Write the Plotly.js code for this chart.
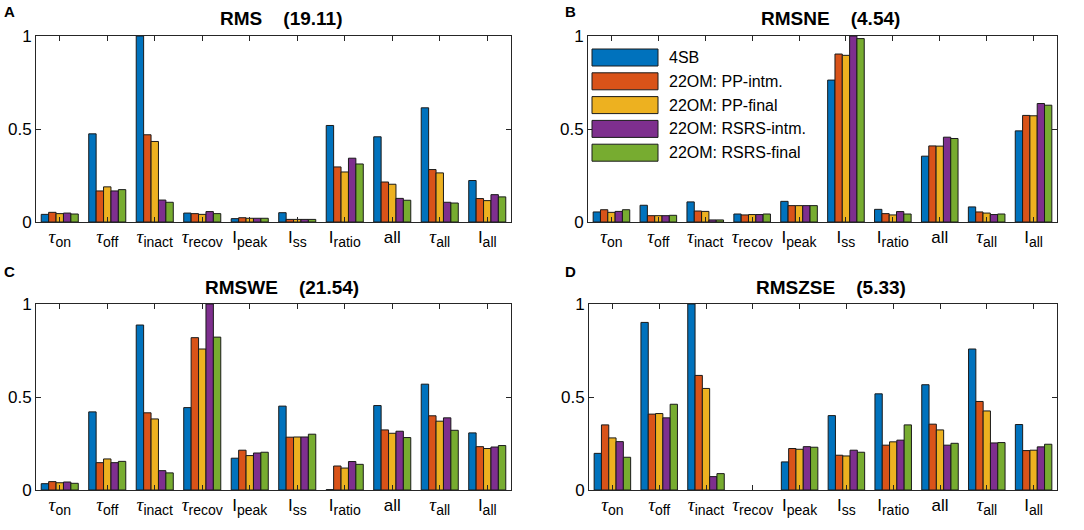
<!DOCTYPE html>
<html>
<head>
<meta charset="utf-8">
<script src="https://cdn.plot.ly/plotly-3.0.1.min.js"></script>
<style>html,body{margin:0;padding:0;background:#fff;}#chart{width:1084px;height:530px;}</style>
</head>
<body>
<div id="chart"></div>
<script>
// ---- data ----
const categories = ['tau_on','tau_off','tau_inact','tau_recov','I_peak','I_ss','I_ratio','all','tau_all','I_all'];
const TAU = '<span style="font-family:Liberation Serif;font-size:19px"><i>τ</i></span>';
const SUB = s => '<sub><span style="font-size:14px">' + s + '</span></sub>';
const tickLabels = [
  TAU + SUB('on'), TAU + SUB('off'), TAU + SUB('inact'), TAU + SUB('recov'),
  'I' + SUB('peak'), 'I' + SUB('ss'), 'I' + SUB('ratio'), 'all',
  TAU + SUB('all'), 'I' + SUB('all')
];
const seriesNames = ['4SB','22OM: PP-intm.','22OM: PP-final','22OM: RSRS-intm.','22OM: RSRS-final'];
const seriesColors = ['#0072BD','#D95319','#EDB120','#7E2F8E','#77AC30'];
const panelLetters = ['A','B','C','D'];
const panelTitles = ['RMS','RMSNE','RMSWE','RMSZSE'];
const panelScores = ['19.11','4.54','21.54','5.33'];
const yTickVals = [0, 0.5, 1];
const yTickText = ['0','0.5','1'];

// each row: one series (4SB, PP-intm., PP-final, RSRS-intm., RSRS-final) across categories
const RMS = [
  [0.041, 0.474, 1.000, 0.048, 0.018, 0.050, 0.519, 0.458, 0.614, 0.223],
  [0.052, 0.167, 0.469, 0.045, 0.023, 0.014, 0.296, 0.215, 0.282, 0.126],
  [0.045, 0.189, 0.433, 0.041, 0.020, 0.014, 0.269, 0.203, 0.264, 0.115],
  [0.048, 0.167, 0.118, 0.056, 0.020, 0.014, 0.343, 0.127, 0.106, 0.147],
  [0.043, 0.174, 0.106, 0.045, 0.020, 0.014, 0.312, 0.117, 0.102, 0.135]
];
const RMSNE = [
  [0.054, 0.090, 0.108, 0.043, 0.111, 0.763, 0.068, 0.354, 0.081, 0.490],
  [0.066, 0.034, 0.059, 0.038, 0.088, 0.903, 0.045, 0.409, 0.054, 0.573],
  [0.052, 0.034, 0.057, 0.040, 0.088, 0.896, 0.038, 0.408, 0.048, 0.571],
  [0.057, 0.034, 0.011, 0.040, 0.088, 1.000, 0.056, 0.456, 0.040, 0.637],
  [0.066, 0.036, 0.011, 0.043, 0.088, 0.986, 0.043, 0.449, 0.043, 0.628]
];
const RMSWE = [
  [0.034, 0.420, 0.887, 0.443, 0.171, 0.451, 0.002, 0.454, 0.569, 0.307],
  [0.045, 0.147, 0.415, 0.819, 0.214, 0.284, 0.129, 0.323, 0.399, 0.233],
  [0.039, 0.167, 0.382, 0.758, 0.185, 0.285, 0.118, 0.305, 0.370, 0.223],
  [0.043, 0.147, 0.104, 1.000, 0.199, 0.285, 0.153, 0.316, 0.388, 0.231],
  [0.036, 0.154, 0.092, 0.822, 0.203, 0.300, 0.138, 0.282, 0.321, 0.239]
];
const RMSZSE = [
  [0.197, 0.901, 1.000, null, 0.151, 0.400, 0.517, 0.566, 0.758, 0.352],
  [0.350, 0.408, 0.616, null, 0.223, 0.187, 0.241, 0.354, 0.476, 0.212],
  [0.280, 0.411, 0.546, null, 0.219, 0.183, 0.259, 0.323, 0.425, 0.214],
  [0.260, 0.388, 0.072, null, 0.233, 0.214, 0.268, 0.241, 0.253, 0.232],
  [0.176, 0.461, 0.088, null, 0.230, 0.203, 0.350, 0.251, 0.255, 0.246]
];
const panelData = [RMS, RMSNE, RMSWE, RMSZSE];

// ---- layout helpers ----
const W = 1084, H = 530;
const px = x => x / W;
const py = y => 1 - y / H;
const FONT = 'Arial, "Liberation Sans", sans-serif';
const AX = '#262626';

// plot boxes in pixels [left, right, top, bottom]
const boxes = [
  [36, 511, 36, 222],
  [588, 1057, 36, 222],
  [36, 511, 304, 490],
  [589, 1057, 304, 490]
];

const traces = [];
const layout = {
  width: W, height: H,
  margin: {l: 0, r: 0, t: 0, b: 0},
  paper_bgcolor: '#ffffff', plot_bgcolor: '#ffffff',
  barmode: 'group', bargap: 0.22, bargroupgap: 0,
  showlegend: false,
  font: {family: FONT, color: '#000'},
  annotations: [], shapes: []
};

const xIdx = categories.map((c, i) => i);

panelData.forEach((rows, p) => {
  const sfx = p === 0 ? '' : String(p + 1);
  const b = boxes[p];
  rows.forEach((vals, s) => {
    traces.push({
      type: 'bar', x: xIdx, y: vals, name: seriesNames[s],
      xaxis: 'x' + sfx, yaxis: 'y' + sfx,
      marker: {color: seriesColors[s], line: {color: '#1a1a1a', width: 1}},
      hoverinfo: 'skip'
    });
  });
  layout['xaxis' + sfx] = {
    domain: [px(b[0]), px(b[1])], anchor: 'y' + sfx,
    range: [-0.5, 9.5], tickvals: xIdx, ticktext: tickLabels,
    ticks: 'inside', ticklen: 5, tickwidth: 1, tickcolor: AX,
    showline: true, linecolor: AX, linewidth: 1, mirror: 'ticks',
    showgrid: false, zeroline: false,
    tickfont: {family: FONT, size: 17, color: '#000'}
  };
  layout['yaxis' + sfx] = {
    domain: [py(b[3]), py(b[2])], anchor: 'x' + sfx,
    range: [0, 1], tickvals: yTickVals, ticktext: yTickText,
    ticks: 'inside', ticklen: 5, tickwidth: 1, tickcolor: AX,
    showline: true, linecolor: AX, linewidth: 1, mirror: 'ticks',
    showgrid: false, zeroline: false,
    tickfont: {family: FONT, size: 17, color: '#000'}
  };
  // panel title
  layout.annotations.push({
    xref: 'paper', yref: 'paper', x: px((b[0] + b[1]) / 2 + 8), y: py(b[2] - 17),
    xanchor: 'center', yanchor: 'middle', showarrow: false,
    text: '<b>' + panelTitles[p] + '\u00a0\u00a0\u00a0\u00a0(' + panelScores[p] + ')</b>',
    font: {family: FONT, size: 19, color: '#000'}
  });
  // panel letter
  layout.annotations.push({
    xref: 'paper', yref: 'paper', x: px(p % 2 === 0 ? 2 : 563), y: py(p < 2 ? 12 : 271),
    xanchor: 'left', yanchor: 'middle', showarrow: false,
    text: '<b>' + panelLetters[p] + '</b>',
    font: {family: FONT, size: 15, color: '#000'}
  });
});

// legend (inside panel B, top-left)
const legLeft = 592, legSwW = 66, legSwH = 17, legTop = 49, legPitch = 23.8;
seriesNames.forEach((n, s) => {
  const y0 = legTop + s * legPitch;
  layout.shapes.push({
    type: 'rect', xref: 'paper', yref: 'paper',
    x0: px(legLeft), x1: px(legLeft + legSwW), y0: py(y0 + legSwH), y1: py(y0),
    fillcolor: seriesColors[s], line: {color: '#1a1a1a', width: 1}
  });
  layout.annotations.push({
    xref: 'paper', yref: 'paper', x: px(legLeft + legSwW + 9), y: py(y0 + legSwH / 2),
    xanchor: 'left', yanchor: 'middle', showarrow: false,
    text: n, font: {family: FONT, size: 16, color: '#000'}
  });
});

Plotly.newPlot('chart', traces, layout, {staticPlot: true, displayModeBar: false});
</script>
</body>
</html>
